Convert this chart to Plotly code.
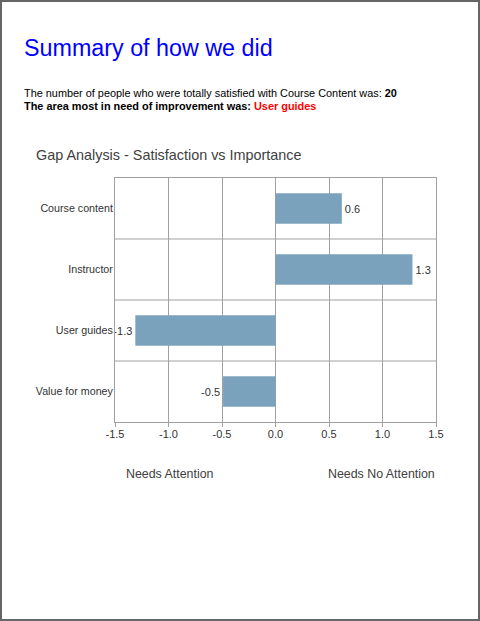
import plotly.graph_objects as go

categories = ["Course content", "Instructor", "User guides", "Value for money"]
gap_values = [0.62, 1.28, -1.31, -0.49]
x_tick_vals = [-1.5, -1.0, -0.5, 0.0, 0.5, 1.0, 1.5]
x_tick_text = ["-1.5", "-1.0", "-0.5", "0.0", "0.5", "1.0", "1.5"]

W, H = 480, 621
FONT = "Liberation Sans, Arial, sans-serif"

def py(px):
    return 1 - px / H

def pxx(px):
    return px / W

fig = go.Figure()
fig.add_trace(go.Bar(
    y=categories,
    x=gap_values,
    orientation="h",
    width=0.5,
    marker=dict(color="#7ba2bd", line=dict(width=0)),
    texttemplate="%{x:.1f}",
    textposition="outside",
    textfont=dict(family=FONT, size=11, color="#333333"),
    cliponaxis=False,
    hoverinfo="skip",
))

fig.update_layout(
    width=W, height=H,
    autosize=False,
    margin=dict(l=0, r=0, t=0, b=0, pad=0, autoexpand=False),
    paper_bgcolor="white",
    plot_bgcolor="white",
    showlegend=False,
    font=dict(family=FONT, color="#333333"),
    xaxis=dict(
        domain=[pxx(115), pxx(436)],
        range=[-1.5, 1.5],
        tickvals=x_tick_vals,
        ticktext=x_tick_text,
        showgrid=True, gridcolor="#a0a0a0", gridwidth=1,
        zeroline=False,
        showline=True, linecolor="#a0a0a0", linewidth=1, mirror=True,
        ticks="outside", ticklen=4, tickcolor="#a0a0a0",
        ticklabelstandoff=-2,
        tickfont=dict(family=FONT, size=11, color="#333333"),
        automargin=False,
        fixedrange=True,
    ),
    yaxis=dict(
        domain=[py(422), py(178)],
        categoryorder="array",
        categoryarray=categories[::-1],
        range=[-0.5, 3.5],
        showgrid=False,
        showline=True, linecolor="#a0a0a0", linewidth=1, mirror=True,
        ticks="", ticklabelstandoff=-1,
        tickfont=dict(family=FONT, size=10.7, color="#333333"),
        automargin=False,
        fixedrange=True,
    ),
    bargap=0.5,
)

# horizontal separators between category rows
for b in [0.5, 1.5, 2.5]:
    fig.add_shape(type="line", xref="x domain", yref="y",
                  x0=0, x1=1, y0=b, y1=b,
                  line=dict(color="#a0a0a0", width=1), layer="below")

# page border
fig.add_shape(type="rect", xref="paper", yref="paper", x0=0, x1=1, y0=0, y1=1,
              line=dict(color="#666666", width=4), layer="above")

fig.add_annotation(x=pxx(22), y=py(48), xref="paper", yref="paper",
                   text="Summary of how we did", showarrow=False,
                   xanchor="left", yanchor="middle",
                   font=dict(family=FONT, size=23.3, color="#0000ff"))
fig.add_annotation(x=pxx(22), y=py(93), xref="paper", yref="paper",
                   text="The number of people who were totally satisfied with Course Content was: <b>20</b>",
                   showarrow=False, xanchor="left", yanchor="middle",
                   font=dict(family=FONT, size=10.9, color="#000000"))
fig.add_annotation(x=pxx(22), y=py(106), xref="paper", yref="paper",
                   text="<b>The area most in need of improvement was: <span style='color:#ff0000'>User guides</span></b>",
                   showarrow=False, xanchor="left", yanchor="middle",
                   font=dict(family=FONT, size=10.9, color="#000000"))
fig.add_annotation(x=pxx(34), y=py(155), xref="paper", yref="paper",
                   text="Gap Analysis - Satisfaction vs Importance",
                   showarrow=False, xanchor="left", yanchor="middle",
                   font=dict(family=FONT, size=14.4, color="#404040"))
fig.add_annotation(x=pxx(170), y=py(474), xref="paper", yref="paper",
                   text="Needs Attention", showarrow=False,
                   xanchor="center", yanchor="middle",
                   font=dict(family=FONT, size=12.4, color="#404040"))
fig.add_annotation(x=pxx(437), y=py(474), xref="paper", yref="paper",
                   text="Needs No Attention", showarrow=False,
                   xanchor="right", yanchor="middle",
                   font=dict(family=FONT, size=12.4, color="#404040"))

fig.write_html(
    "out.html",
    config={"displayModeBar": False},
    post_script="document.body.style.margin='0';document.body.style.overflow='hidden';",
)
